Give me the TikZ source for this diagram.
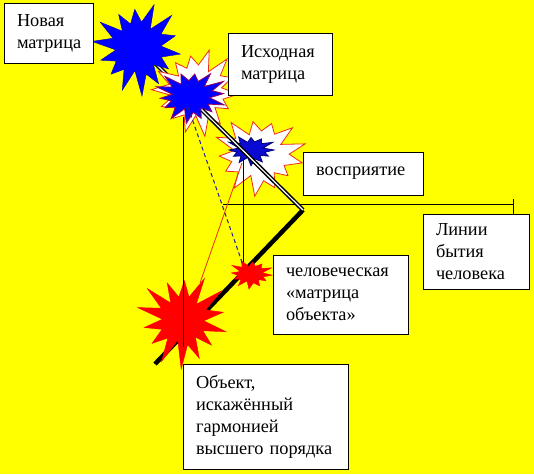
\documentclass[tikz,border=0pt]{standalone}
\usepackage{fontspec}
\setmainfont{Liberation Serif}
\definecolor{bgyellow}{RGB}{255,255,0}
\definecolor{starblue}{RGB}{0,0,255}
\definecolor{darkblue}{RGB}{10,10,210}
\definecolor{navyline}{RGB}{0,0,120}
\definecolor{outlinered}{RGB}{235,45,20}
\definecolor{purpleline}{RGB}{150,0,90}
\definecolor{dashblue}{RGB}{30,30,150}
\newcommand{\burst}[8]{%
  \pgfmathtruncatemacro\bmax{2*#6-1}%
  \pgfmathtruncatemacro\bsamp{2*#6}%
  \path[#1] plot[domain=0:\bmax, samples=\bsamp, variable=\t]
   ({#2+#4*(mod(round(\t),2)==0 ? 1+0.13*sin(\t*137+#8) : #7*(1+0.1*cos(\t*71+#8)))*cos(\t*180/#6+#8)},
    {#3+#5*(mod(round(\t),2)==0 ? 1+0.13*sin(\t*137+#8) : #7*(1+0.1*cos(\t*71+#8)))*sin(\t*180/#6+#8)}) -- cycle;}
\tikzset{
  box/.style={draw=black, line width=0.8pt, fill=white, align=left, anchor=north west,
    inner xsep=13pt, inner ysep=0pt, outer sep=0pt, font=\fontsize{18.3}{22}\selectfont},
  thinline/.style={draw=black, line width=0.8pt},
  dblline/.style={draw=black, line width=1.5pt, double=white, double distance=1.2pt},
  thickline/.style={draw=black, line width=4.5pt}
}
\begin{document}
\begin{tikzpicture}[x=1pt, y=-1pt]
\fill[bgyellow] (0,0) rectangle (534,474);
\useasboundingbox (0,0) rectangle (534,474);
% named points
\coordinate (dA) at (146,54);
\coordinate (dB) at (202,110);
\coordinate (corner) at (303,210);
\coordinate (thickend) at (155,364);
\coordinate (v1top) at (183,117);
\coordinate (v1bot) at (183,347);
\coordinate (v2top) at (243,158);
\coordinate (v2bot) at (243,262);
\coordinate (hl) at (223,204);
\coordinate (hr) at (513,204);
\coordinate (tickt) at (513,199);
\coordinate (tickb) at (513,214);
\coordinate (redA) at (200,283);
\coordinate (redB) at (242,163);
\coordinate (dashA) at (188,107);
\coordinate (dashB) at (243,265);
% lines under the stars
\draw[thickline] (corner) -- (thickend);
\draw[dblline] (dA) -- (dB);
% stars
\burst{fill=starblue, draw=starblue!70!black, line width=0.4pt}{138}{48}{42}{43}{14}{0.58}{8}
\burst{fill=white, draw=outlinered, line width=0.8pt}{197}{92}{41}{40}{14}{0.64}{3}
\burst{fill=starblue, draw=purpleline, line width=0.8pt}{191}{96}{34}{25}{14}{0.6}{20}
\burst{fill=white, draw=outlinered, line width=0.8pt}{259}{155}{43}{37}{13}{0.64}{12}
\burst{fill=darkblue, draw=navyline, line width=0.8pt}{251}{150}{23}{14}{12}{0.6}{0}
\burst{fill=red, draw=red, line width=0.4pt}{251}{274}{21}{13.5}{12}{0.6}{5}
\burst{fill=red, draw=red, line width=0.4pt}{183}{320}{43}{44}{14}{0.52}{15}
% thin lines
\draw[thinline] (v1top) -- (v1bot);
\draw[thinline] (v2top) -- (v2bot);
\draw[thinline] (hl) -- (hr);
\draw[thinline] (tickt) -- (tickb);
\draw[draw=outlinered, line width=0.8pt] (redA) -- (redB);
\draw[draw=dashblue, line width=1pt, dash pattern=on 4pt off 3pt] (dashA) -- (dashB);
\draw[dblline] (dB) -- (corner);
% boxes
\node[box, text width=63pt, minimum height=60pt] (nov) at (4,3) {Новая\\матрица};
\node[box, text width=78pt, minimum height=62pt] (isx) at (228,33) {Исходная\\матрица};
\node[box, text width=94pt, minimum height=43pt] (vos) at (303,152) {восприятие};
\node[box, text width=80pt, minimum height=75pt] (lin) at (423,214) {Линии\\бытия\\человека};
\node[box, text width=109pt, minimum height=79pt] (chel) at (273,255) {человеческая\\«матрица\\объекта»};
\node[box, text width=139pt, minimum height=105pt] (obj) at (183,364) {Объект,\\искажённый\\гармонией\\высшего~порядка};
\end{tikzpicture}
\end{document}
